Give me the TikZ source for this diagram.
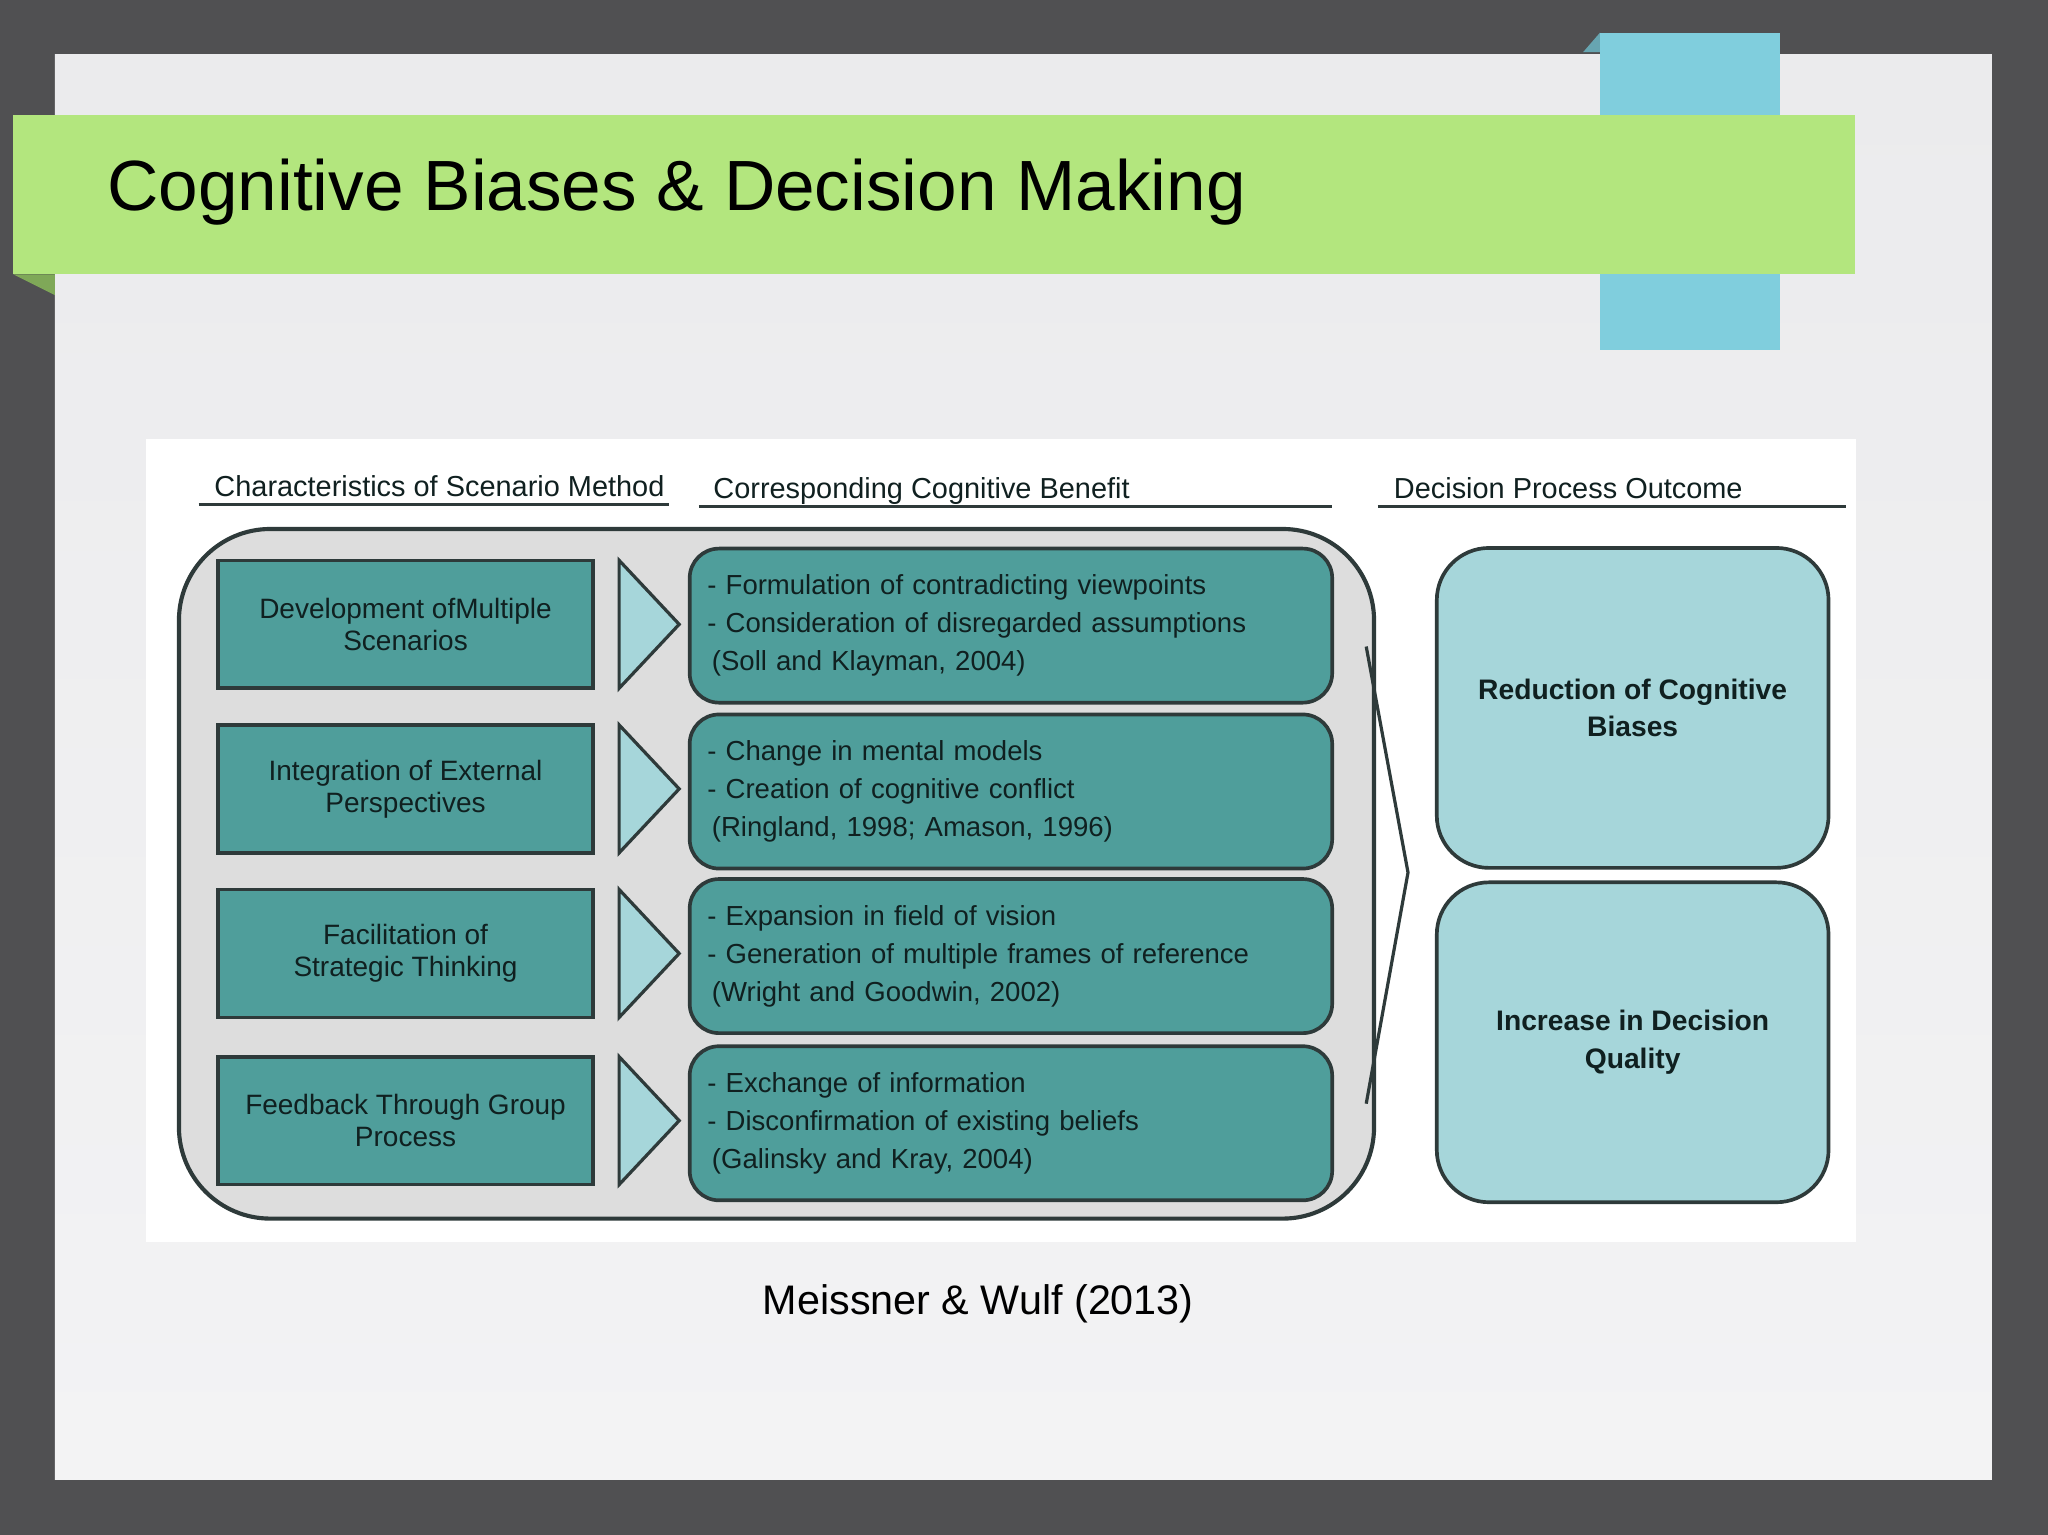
\documentclass[tikz,border=0pt]{standalone}
\usepackage{fontspec}
\setmainfont{Liberation Sans}
\definecolor{bgdark}{HTML}{505052}
\definecolor{slide}{HTML}{EBEBED}
\definecolor{banner}{HTML}{B3E67E}
\definecolor{bannerdk}{HTML}{7FA858}
\definecolor{sky}{HTML}{80CEDD}
\definecolor{teal}{HTML}{4F9E9B}
\definecolor{light}{HTML}{A6D6DA}
\definecolor{edge}{HTML}{2E3A3A}
\definecolor{txt}{HTML}{102020}
\tikzset{
  charbox/.style={draw=edge,line width=1.6pt,fill=teal,minimum width=5.74cm,minimum height=1.96cm,align=center,font=\fontsize{12.2}{14}\selectfont,text=txt},
  benbox/.style={draw=edge,line width=1.6pt,fill=teal,rounded corners=0.45cm,minimum width=9.84cm,minimum height=2.36cm,align=left,text width=9.3cm,font=\fontsize{12}{16.5}\selectfont,text=txt},
  outbox/.style={draw=edge,line width=1.6pt,fill=light,rounded corners=0.8cm,minimum width=6cm,minimum height=4.9cm,align=center,font=\bfseries\fontsize{12.3}{16.5}\selectfont,text=txt},
  tri/.style={draw=edge,line width=1.4pt,fill=light,line join=miter},
  hdr/.style={anchor=base west,font=\fontsize{12.6}{14}\selectfont,text=txt},
  uline/.style={draw=edge,line width=1.2pt}
}
\begin{document}
\begin{tikzpicture}[x=0.02cm,y=-0.02cm]
\useasboundingbox (0,0) rectangle (1568,1175);
\fill[bgdark] (0,0) rectangle (1568,1175);
\shade[top color=slide, bottom color=slide!60!white] (42,42) rectangle (1525,1133);
% blue tab
\fill[sky!80!black] (1212,40) -- (1225,25) -- (1225,40) -- cycle;
\fill[sky] (1225,25) rectangle (1363,268);
% banner
\fill[bannerdk] (10,210) -- (42,210) -- (42,226) -- cycle;
\fill[banner] (10,88) rectangle (1420,210);
\node[anchor=west,font=\fontsize{31}{35}\selectfont] (title) at (76,147) {Cognitive Biases \& Decision Making};
% white panel
\fill[white] (112,336) rectangle (1421,951);
% headers
\node[hdr] (h1) at (158,380) {Characteristics of Scenario Method};
\node[hdr] (h2) at (540,382) {Corresponding Cognitive Benefit};
\node[hdr] (h3) at (1061,382) {Decision Process Outcome};
\draw[uline] (152,386) -- (512,386);
\draw[uline] (535,388) -- (1020,388);
\draw[uline] (1055,388) -- (1413,388);
% container
\draw[edge,line width=1.8pt,fill=gray!27,rounded corners=1.4cm] (137,405) rectangle (1052,933);
% left boxes
\node[charbox] (c1) at (310.5,478) {Development ofMultiple\\Scenarios};
\node[charbox] (c2) at (310.5,604) {Integration of External\\Perspectives};
\node[charbox] (c3) at (310.5,730) {Facilitation of\\Strategic Thinking};
\node[charbox] (c4) at (310.5,858) {Feedback Through Group\\Process};
% triangles
\foreach \y in {478,604,730,858}{
  \draw[tri] (474,\y-49) -- (520,\y) -- (474,\y+49) -- cycle;
}
% benefit boxes
\node[benbox] (b1) at (774,479) {- Formulation of contradicting viewpoints\\- Consideration of disregarded assumptions\\\hspace*{2pt}(Soll and Klayman, 2004)};
\node[benbox] (b2) at (774,606) {- Change in mental models\\- Creation of cognitive conflict\\\hspace*{2pt}(Ringland, 1998; Amason, 1996)};
\node[benbox] (b3) at (774,732) {- Expansion in field of vision\\- Generation of multiple frames of reference\\\hspace*{2pt}(Wright and Goodwin, 2002)};
\node[benbox] (b4) at (774,860) {- Exchange of information\\- Disconfirmation of existing beliefs\\\hspace*{2pt}(Galinsky and Kray, 2004)};
% chevron
\coordinate (ch1) at (1046,495);
\coordinate (ch2) at (1078,668);
\coordinate (ch3) at (1046,845);
\draw[edge,line width=1.4pt] (ch1) -- (ch2) -- (ch3);
% outcome boxes
\node[outbox] (o1) at (1250,542) {Reduction of Cognitive\\Biases};
\node[outbox] (o2) at (1250,798) {Increase in Decision\\Quality};
% caption
\node[font=\fontsize{18}{21}\selectfont] (cap) at (749,998) {Meissner \& Wulf (2013)};
\end{tikzpicture}
\end{document}
